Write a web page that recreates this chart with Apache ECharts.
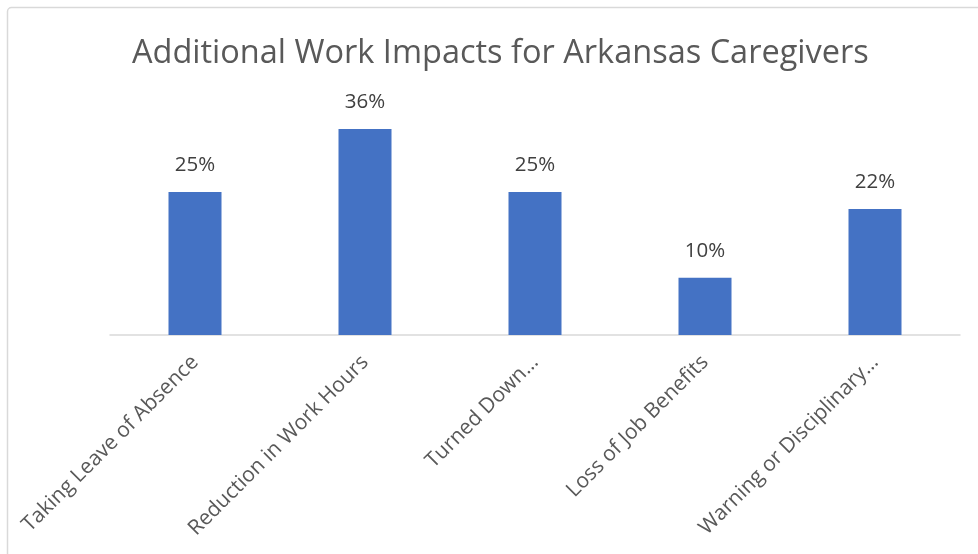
<!DOCTYPE html>
<html>
<head>
<meta charset="utf-8">
<script src="https://cdn.jsdelivr.net/npm/echarts@6/dist/echarts.min.js"></script>
<style>
html,body{margin:0;padding:0;background:#fff;}
#c{width:978px;height:554px;}
</style>
</head>
<body>
<div id="c"></div>
<script>
const titleText = "Additional Work Impacts for Arkansas Caregivers";
const categories = ["Taking Leave of Absence", "Reduction in Work Hours", "Turned Down…", "Loss of Job Benefits", "Warning or Disciplinary…"];
const values = [25, 36, 25, 10, 22];

const chart = echarts.init(document.getElementById('c'), null, {renderer: 'canvas'});
chart.setOption({
  animation: false,
  backgroundColor: '#fff',
  graphic: [{
    type: 'rect',
    shape: {x: 7.5, y: 7.5, width: 1000, height: 600, r: 4},
    style: {fill: 'none', stroke: '#d9d9d9', lineWidth: 1.5},
    silent: true
  }],
  title: {
    text: titleText,
    left: 127,
    top: 32,
    textStyle: {fontFamily: 'Open Sans', fontWeight: 'normal', fontSize: 32.5, color: '#595959'}
  },
  grid: {left: 110, right: 18, top: 106, bottom: 219, containLabel: false},
  xAxis: {
    type: 'category',
    data: categories,
    axisLine: {lineStyle: {color: '#d9d9d9', width: 1.5}},
    axisTick: {show: false},
    axisLabel: {
      interval: 0,
      rotate: 45,
      margin: 24,
      color: '#595959',
      fontFamily: 'Open Sans',
      fontSize: 21
    }
  },
  yAxis: {
    type: 'value',
    min: 0,
    max: 40,
    show: false,
    splitLine: {show: false}
  },
  series: [{
    type: 'bar',
    data: values,
    barWidth: 53,
    itemStyle: {color: '#4472C4'},
    label: {
      show: true,
      position: 'top',
      distance: 16,
      formatter: p => p.value + '%',
      color: '#404040',
      fontFamily: 'Open Sans',
      fontSize: 20.5
    }
  }]
});
</script>
</body>
</html>
